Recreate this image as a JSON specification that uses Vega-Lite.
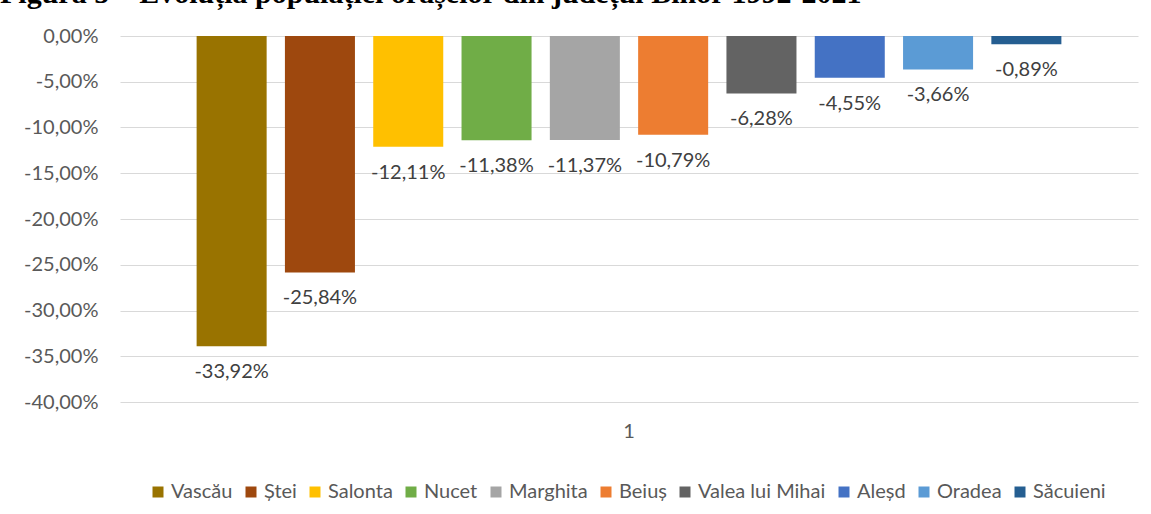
{
  "$schema": "https://vega.github.io/schema/vega-lite/v6.json",
  "width": 1018,
  "height": 366,
  "autosize": "none",
  "padding": {"left": 120, "top": 36, "right": 13, "bottom": 112},
  "background": "white",
  "config": {
    "locale": {"number": {"decimal": ",", "thousands": ".", "grouping": [3], "currency": ["", ""], "minus": "-"}},
    "view": {"stroke": null},
    "font": "Lato"
  },
  "title": {
    "text": "Figura 5 – Evoluția populației orașelor din județul Bihor 1992-2021",
    "font": "Liberation Serif",
    "fontSize": 30,
    "fontWeight": "bold",
    "color": "black",
    "anchor": "start",
    "frame": "group",
    "dx": -120,
    "offset": 17
  },
  "data": {
    "values": [
      {"g": "1", "oras": "Vascău", "v": -0.3392},
      {"g": "1", "oras": "Ștei", "v": -0.2584},
      {"g": "1", "oras": "Salonta", "v": -0.1211},
      {"g": "1", "oras": "Nucet", "v": -0.1138},
      {"g": "1", "oras": "Marghita", "v": -0.1137},
      {"g": "1", "oras": "Beiuș", "v": -0.1079},
      {"g": "1", "oras": "Valea lui Mihai", "v": -0.0628},
      {"g": "1", "oras": "Aleșd", "v": -0.0455},
      {"g": "1", "oras": "Oradea", "v": -0.0366},
      {"g": "1", "oras": "Săcuieni", "v": -0.0089}
    ]
  },
  "encoding": {
    "x": {
      "field": "g",
      "type": "nominal",
      "scale": {"paddingInner": 0, "paddingOuter": 0.0886},
      "axis": {"title": null, "ticks": false, "domain": false, "grid": false, "labelAngle": 0, "labelFontSize": 20, "labelColor": "#595959", "labelPadding": 19}
    },
    "xOffset": {
      "field": "oras",
      "type": "nominal",
      "sort": ["Vascău", "Ștei", "Salonta", "Nucet", "Marghita", "Beiuș", "Valea lui Mihai", "Aleșd", "Oradea", "Săcuieni"],
      "scale": {"paddingInner": 0.207, "paddingOuter": 0}
    },
    "y": {
      "field": "v",
      "type": "quantitative",
      "scale": {"domain": [-0.4, 0], "nice": false, "zero": true},
      "axis": {"title": null, "values": [0, -0.05, -0.1, -0.15, -0.2, -0.25, -0.3, -0.35, -0.4], "format": ".2%", "ticks": false, "domain": false, "gridColor": "#d9d9d9", "gridWidth": 1, "labelFontSize": 20, "labelColor": "#595959", "labelPadding": 22}
    }
  },
  "layer": [
    {
      "mark": {"type": "bar"},
      "encoding": {
        "color": {
          "field": "oras",
          "type": "nominal",
          "scale": {
            "domain": ["Vascău", "Ștei", "Salonta", "Nucet", "Marghita", "Beiuș", "Valea lui Mihai", "Aleșd", "Oradea", "Săcuieni"],
            "range": ["#997300", "#9E480E", "#FFC000", "#70AD47", "#A5A5A5", "#ED7D31", "#636363", "#4472C4", "#5B9BD5", "#255E91"]
          },
          "legend": {
            "title": null,
            "orient": "none",
            "legendX": 28,
            "legendY": 446,
            "direction": "horizontal",
            "symbolType": "square",
            "symbolSize": 121,
            "symbolStrokeWidth": 0,
            "symbolOpacity": 1,
            "labelFontSize": 20,
            "labelColor": "#595959",
            "labelOffset": 3,
            "columnPadding": 8,
            "columns": 10
          }
        }
      }
    },
    {
      "mark": {"type": "text", "baseline": "top", "dy": 16, "fontSize": 20, "color": "#404040"},
      "encoding": {
        "text": {"field": "v", "type": "quantitative", "format": ".2%"}
      }
    }
  ]
}
